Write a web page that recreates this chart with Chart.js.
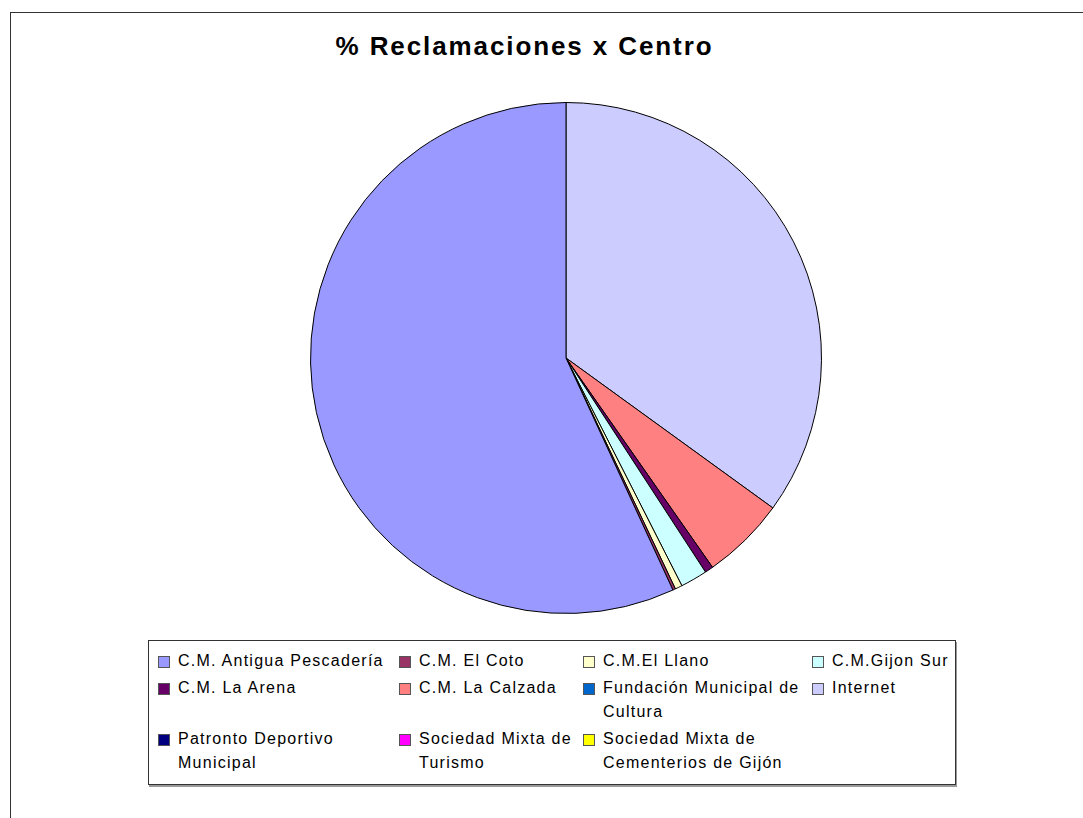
<!DOCTYPE html>
<html>
<head>
<meta charset="utf-8">
<title>% Reclamaciones x Centro</title>
<script src="https://cdn.jsdelivr.net/npm/chart.js@4/dist/chart.umd.min.js"></script>
<style>
  html, body { margin: 0; padding: 0; background: #fff; }
  body { width: 1083px; height: 818px; position: relative; overflow: hidden; font-family: 'Liberation Sans', Arial, sans-serif; }
  #frame { position: absolute; left: 10px; top: 12px; width: 1100px; height: 840px; border: 1px solid #333; }
  #title { position: absolute; left: 0; width: 1049px; top: 31px; line-height: 30px; text-align: center; font-weight: bold; font-size: 26px; letter-spacing: 1.9px; color: #000; }
  #pie { position: absolute; left: 310px; top: 102px; }
  #legend {
    position: absolute; left: 148px; top: 640px; width: 808px; height: 145px;
    border: 1px solid #333; box-sizing: border-box;
    box-shadow: 1px 2px 0 #999;
    display: grid; grid-template-columns: 241px 184px 229px 140px; row-gap: 3px;
    padding: 8px 0 0 9px; align-content: start;
  }
  .item { display: flex; align-items: flex-start; font-size: 16px; line-height: 24px; letter-spacing: 1.25px; color: #000; }
  .sw { flex: 0 0 auto; width: 10px; height: 10px; border: 1px solid #555; margin: 7px 8px 0 0; }
</style>
</head>
<body>
<div id="frame"></div>
<div id="title">% Reclamaciones x Centro</div>
<canvas id="pie" width="512" height="512"></canvas>
<div id="legend"></div>
<script>
// categories in legend order
const categories = [
  'C.M. Antigua Pescadería', 'C.M. El Coto', 'C.M.El Llano', 'C.M.Gijon Sur',
  'C.M. La Arena', 'C.M. La Calzada', 'Fundación Municipal de Cultura', 'Internet',
  'Patronto Deportivo Municipal', 'Sociedad Mixta de Turismo', 'Sociedad Mixta de Cementerios de Gijón'
];
// % of claims per centre
const values = [56.9, 0.17, 0.45, 1.7, 0.53, 5.3, 0, 35.0, 0, 0, 0];
const colors = [
  '#9999FF', '#993366', '#FFFFCC', '#CCFFFF',
  '#660066', '#FF8080', '#0066CC', '#CCCCFF',
  '#000080', '#FF00FF', '#FFFF00'
];

// HTML legend (4 columns, wrapping labels)
const legendEl = document.getElementById('legend');
legendEl.innerHTML = categories.map((c, i) =>
  `<div class="item"><span class="sw" style="background:${colors[i]}"></span><span>${c}</span></div>`
).join('');

// slices run counter-clockwise from 12 o'clock in the original
const revLabels = categories.slice().reverse();
const revValues = values.slice().reverse();
const revColors = colors.slice().reverse();

new Chart(document.getElementById('pie'), {
  type: 'pie',
  data: {
    labels: revLabels,
    datasets: [{
      data: revValues,
      backgroundColor: revColors,
      borderColor: '#000',
      borderWidth: 1,
    }],
  },
  options: {
    responsive: false,
    animation: false,
    rotation: 0,
    layout: { padding: 0 },
    plugins: {
      legend: { display: false },
      title: { display: false },
      tooltip: { enabled: false },
    },
  },
});
</script>
</body>
</html>
